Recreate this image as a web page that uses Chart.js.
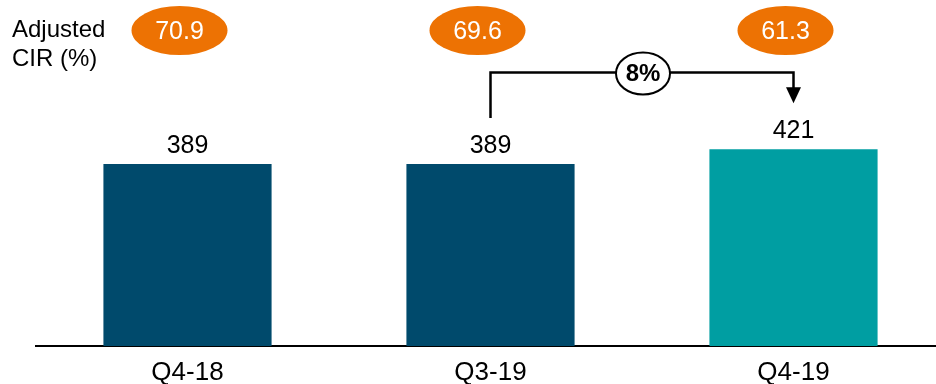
<!DOCTYPE html>
<html>
<head>
<meta charset="utf-8">
<script src="https://cdn.jsdelivr.net/npm/chart.js@4.4.0/dist/chart.umd.min.js"></script>
<style>
  html, body { margin: 0; padding: 0; background: #fff; overflow: hidden; }
  #wrap { width: 945px; height: 384px; }
</style>
</head>
<body>
<div id="wrap"><canvas id="barChart"></canvas></div>
<script>
// quarterly figures
var quarters = ["Q4-18", "Q3-19", "Q4-19"];
var income = [389, 389, 421];
var cirValues = [70.9, 69.6, 61.3];

var FONT = '"Liberation Sans", Arial, sans-serif';

// bubbles sit a little left of the bar centres
var bubbleShift = [-8, -13, -8];

// growth between Q3-19 and Q4-19
var growth = Math.round((income[2] / income[1] - 1) * 100);

var annotations = {
  id: 'annotations',
  afterDatasetsDraw: function (chart) {
    var ctx = chart.ctx;
    var meta = chart.getDatasetMeta(0);
    ctx.save();

    // left caption
    ctx.fillStyle = '#000';
    ctx.font = '24px ' + FONT;
    ctx.textAlign = 'left';
    ctx.textBaseline = 'alphabetic';
    ctx.fillText('Adjusted', 12, 37);
    ctx.fillText('CIR (%)', 12, 65.5);

    meta.data.forEach(function (bar, i) {
      // value above each bar
      ctx.font = '25px ' + FONT;
      ctx.fillStyle = '#000';
      ctx.textAlign = 'center';
      ctx.textBaseline = 'alphabetic';
      ctx.fillText(String(income[i]), bar.x, bar.y - 11);

      // CIR bubble
      var cx = bar.x + bubbleShift[i];
      ctx.beginPath();
      ctx.ellipse(cx, 30.5, 48, 24.5, 0, 0, 2 * Math.PI);
      ctx.fillStyle = '#ED7203';
      ctx.fill();
      ctx.fillStyle = '#fff';
      ctx.textBaseline = 'middle';
      ctx.fillText(cirValues[i].toFixed(1), cx, 32);
    });

    // bracket Q3-19 -> Q4-19
    var a = meta.data[1], b = meta.data[2];
    var lineY = 72.5;
    var tipY = b.y - 46;
    ctx.strokeStyle = '#000';
    ctx.lineWidth = 2.5;
    ctx.beginPath();
    ctx.moveTo(a.x, a.y - 46);
    ctx.lineTo(a.x, lineY);
    ctx.lineTo(b.x, lineY);
    ctx.lineTo(b.x, tipY - 14);
    ctx.stroke();
    ctx.beginPath();
    ctx.moveTo(b.x - 7.5, tipY - 16);
    ctx.lineTo(b.x + 7.5, tipY - 16);
    ctx.lineTo(b.x, tipY);
    ctx.closePath();
    ctx.fillStyle = '#000';
    ctx.fill();

    // growth badge
    var mx = (a.x + b.x) / 2 + 1;
    ctx.beginPath();
    ctx.ellipse(mx, 73.5, 27, 21, 0, 0, 2 * Math.PI);
    ctx.fillStyle = '#fff';
    ctx.fill();
    ctx.lineWidth = 2;
    ctx.stroke();
    ctx.fillStyle = '#000';
    ctx.font = 'bold 24px ' + FONT;
    ctx.textAlign = 'center';
    ctx.textBaseline = 'middle';
    ctx.fillText(growth + '%', mx, 74);

    ctx.restore();
  }
};

var data = {
  labels: quarters,
  datasets: [{
    data: income,
    backgroundColor: ['#004A6C', '#004A6C', '#009EA2'],
    borderWidth: 0,
    categoryPercentage: 1,
    barPercentage: 0.555
  }]
};

var options = {
  responsive: true,
  maintainAspectRatio: false,
  animation: false,
  layout: { padding: { left: 36, right: 0, top: 0, bottom: 0 } },
  plugins: {
    legend: { display: false },
    tooltip: { enabled: false }
  },
  scales: {
    x: {
      grid: { display: false, drawTicks: false },
      border: { display: true, color: '#000', width: 2 },
      ticks: {
        color: '#000',
        padding: 14,
        font: { family: FONT, size: 26, lineHeight: 1 }
      },
      // keep the axis band at a fixed height
      afterFit: function (scale) {
        scale.height = 38;
      }
    },
    y: {
      display: false,
      min: 0,
      max: 740
    }
  }
};

var ctx = document.getElementById('barChart').getContext('2d');
var myBarChart = new Chart(ctx, {
  type: 'bar',
  data: data,
  options: options,
  plugins: [annotations]
});
</script>
</body>
</html>
